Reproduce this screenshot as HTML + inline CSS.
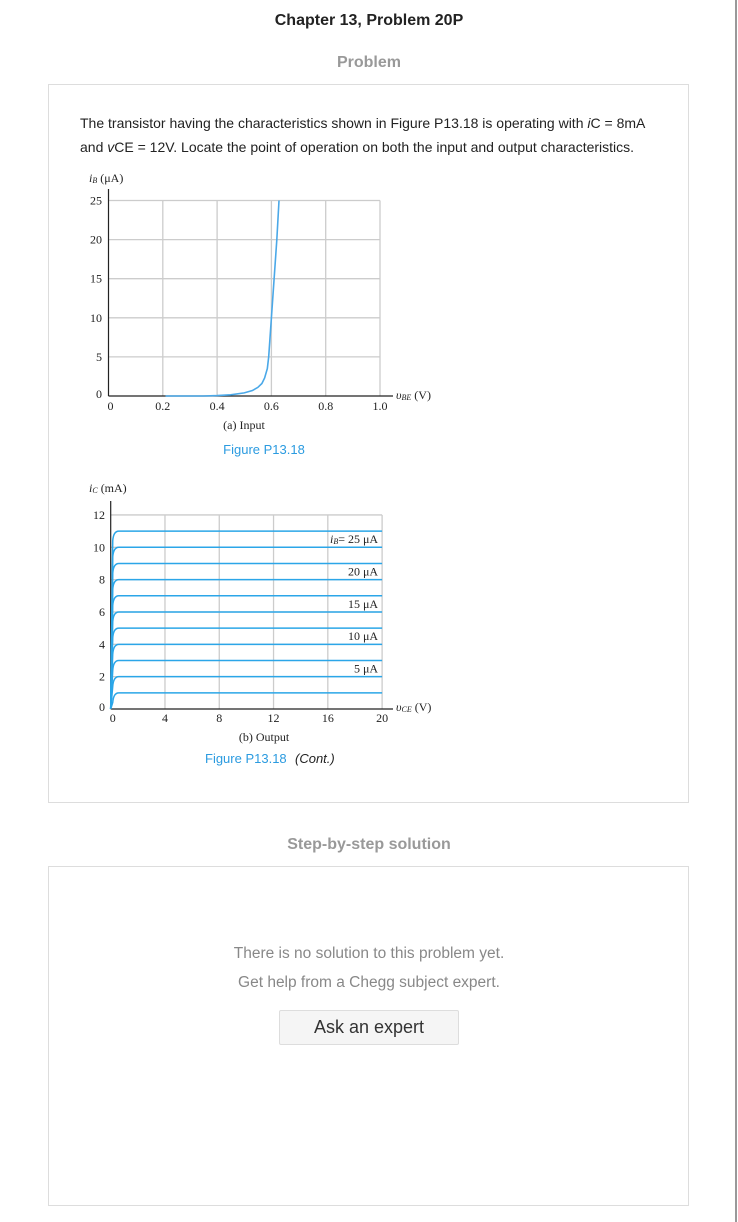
<!DOCTYPE html>
<html><head><meta charset="utf-8"><style>
body{margin:0;width:738px;height:1222px;background:#fff;font-family:"Liberation Sans",sans-serif;position:relative;overflow:hidden}
.abs{position:absolute}
.box{position:absolute;border:1px solid #ddd;box-sizing:border-box}
svg text{font-family:"Liberation Serif",serif;fill:#222}
</style></head><body>
<div class="abs" style="left:735px;top:0;width:2px;height:1222px;background:#999"></div>
<div class="abs" style="left:0;width:738px;top:12px;text-align:center;font-weight:bold;font-size:16px;color:#222">Chapter 13, Problem 20P</div>
<div class="abs" style="left:0;width:738px;top:54px;text-align:center;font-weight:bold;font-size:16px;color:#999">Problem</div>
<div class="box" style="left:48px;top:84px;width:641px;height:719px"></div>
<div class="abs" style="left:80px;top:111px;font-size:14px;line-height:24px;color:#222;white-space:nowrap">The transistor having the characteristics shown in Figure P13.18 is operating with <i>i</i>C = 8mA<br>and <i>v</i>CE = 12V. Locate the point of operation on both the input and output characteristics.</div>
<svg class="abs" style="left:0;top:0" width="738" height="800">
<g id="inp"></g>
<g id="out"></g>
</svg>
<div class="abs" style="left:0;width:738px;top:836px;text-align:center;font-weight:bold;font-size:16px;color:#999">Step-by-step solution</div>
<div class="box" style="left:48px;top:866px;width:641px;height:340px"></div>
<div class="abs" style="left:0;width:738px;top:939px;text-align:center;font-size:15.5px;line-height:29px;color:#888">There is no solution to this problem yet.<br>Get help from a Chegg subject expert.</div>
<div class="abs" style="left:279px;top:1010px;width:180px;height:35px;box-sizing:border-box;border:1px solid #ddd;background:#f5f5f5;border-radius:2px;text-align:center;line-height:33px;font-size:18px;color:#333">Ask an expert</div>
<script>
const NS="http://www.w3.org/2000/svg";
function mk(p,t,a,txt){const e=document.createElementNS(NS,t);for(const k in a)e.setAttribute(k,a[k]);if(txt!=null)e.textContent=txt;p.appendChild(e);return e;}
// Input chart data
const inXTicks=[0,0.2,0.4,0.6,0.8,1.0];
const inXLabels=["0","0.2","0.4","0.6","0.8","1.0"];
const inYTicks=[0,5,10,15,20,25];
const inV=[0.21,0.35,0.4,0.45,0.5,0.53,0.55,0.565,0.575,0.585,0.59,0.6,0.61,0.62,0.628];
const inI=[0,0,0.05,0.15,0.4,0.7,1.1,1.6,2.3,3.5,5,10,15,20,25];
// Output chart data
const outXTicks=[0,4,8,12,16,20];
const outYTicks=[0,2,4,6,8,10,12];
const outCurves=[1,2,3,4,5,6,7,8,9,10,11];
const outLabels=["i_B= 25 μA","20 μA","15 μA","10 μA","5 μA"];
const outLabelY=[10.5,8.5,6.5,4.5,2.5];

(function(){
const g=document.getElementById('inp');
const x=v=>108.5+v*271.5, y=v=>396-v*7.82;
inXTicks.forEach((t,i)=>{if(i>0){const l=mk(g,'line',{x1:x(t),x2:x(t),y1:y(0),y2:y(25),stroke:'#ccc','stroke-width':1.3});}
const tx=mk(g,'text',{x:x(t)+(i==0?2:0),y:410,'font-size':12,'text-anchor':'middle'},inXLabels[i]);});
inYTicks.forEach(t=>{if(t>0){const l=mk(g,'line',{x1:x(0),x2:x(1),y1:y(t),y2:y(t),stroke:'#ccc','stroke-width':1.3});}
const tx=mk(g,'text',{x:102,y:y(t)+4-(t==0?2:0),'font-size':12,'text-anchor':'end'},String(t));});
mk(g,'line',{x1:x(0),x2:393,y1:y(0),y2:y(0),stroke:'#222','stroke-width':1.2});
mk(g,'line',{x1:x(0),x2:x(0),y1:189,y2:y(0),stroke:'#222','stroke-width':1.2});
const p=mk(g,'polyline',{points:inV.map((v,i)=>x(v)+','+y(inI[i])).join(' '),fill:'none',stroke:'#4aa8e8','stroke-width':1.6});

const t1=mk(g,'text',{x:396,y:399,'font-size':12,'font-style':'italic'},'υ');
mk(t1,'tspan',{'font-size':8,dy:1},'BE');mk(t1,'tspan',{'font-style':'normal',dy:-1},' (V)');
const t2=mk(g,'text',{x:89,y:182,'font-size':12,'font-style':'italic'},'i');
mk(t2,'tspan',{'font-size':8,dy:1},'B');mk(t2,'tspan',{'font-style':'normal',dy:-1},' (μA)');
const c=mk(g,'text',{x:244,y:429,'font-size':12,'text-anchor':'middle'},'(a) Input');
const f=mk(g,'text',{x:264,y:454,'font-size':13,'text-anchor':'middle',style:'fill:#2b9be0;font-family:Liberation Sans,sans-serif'},'Figure P13.18');
})();
(function(){
const g=document.getElementById('out');
const x=v=>110.7+v*13.57, y=v=>709-v*16.17;
outXTicks.forEach(t=>{if(t>0){const l=mk(g,'line',{x1:x(t),x2:x(t),y1:y(0),y2:y(12),stroke:'#ccc','stroke-width':1.3});}
const tx=mk(g,'text',{x:x(t)+(t==0?2:0),y:722,'font-size':12,'text-anchor':'middle'},String(t));});
outYTicks.forEach(t=>{if(t>0){const l=mk(g,'line',{x1:x(0),x2:x(20),y1:y(t),y2:y(t),stroke:'#ccc','stroke-width':1.3});}
const tx=mk(g,'text',{x:105,y:y(t)+4-(t==0?2:0),'font-size':12,'text-anchor':'end'},String(t));});
mk(g,'line',{x1:x(0),x2:393,y1:y(0),y2:y(0),stroke:'#222','stroke-width':1.2});
mk(g,'line',{x1:x(0),x2:x(0),y1:501,y2:y(0),stroke:'#222','stroke-width':1.2});
outCurves.forEach(k=>{const p=mk(g,'path',{d:`M${x(0)},${y(0)} L${x(0.15)},${y(k-0.6)} Q${x(0.2)},${y(k)} ${x(0.6)},${y(k)} L${x(20)},${y(k)}`,fill:'none',stroke:'#2ba6e8','stroke-width':1.5});
});
outLabels.forEach((s,i)=>{const t=mk(g,'text',{x:x(20)-4,y:y(outLabelY[i])+4,'font-size':12,'text-anchor':'end'},'');

if(s.startsWith('i_B')){mk(t,'tspan',{'font-style':'italic'},'i');mk(t,'tspan',{'font-size':8,dy:1,'font-style':'italic'},'B');mk(t,'tspan',{dy:-1},s.slice(3));}else t.textContent=s;});
const t1=mk(g,'text',{x:396,y:711,'font-size':12,'font-style':'italic'},'υ');
mk(t1,'tspan',{'font-size':8,dy:1},'CE');mk(t1,'tspan',{'font-style':'normal',dy:-1},' (V)');
const t2=mk(g,'text',{x:89,y:492,'font-size':12,'font-style':'italic'},'i');
mk(t2,'tspan',{'font-size':8,dy:1},'C');mk(t2,'tspan',{'font-style':'normal',dy:-1},' (mA)');
const c=mk(g,'text',{x:264,y:741,'font-size':12,'text-anchor':'middle'},'(b) Output');
const f=mk(g,'text',{x:205,y:763,'font-size':13,style:'fill:#2b9be0;font-family:Liberation Sans,sans-serif'},'Figure P13.18');
mk(g,'text',{x:295,y:763,'font-size':13,style:'font-family:Liberation Sans,sans-serif;font-style:italic'},'(Cont.)');
})();
</script>
</body></html>
